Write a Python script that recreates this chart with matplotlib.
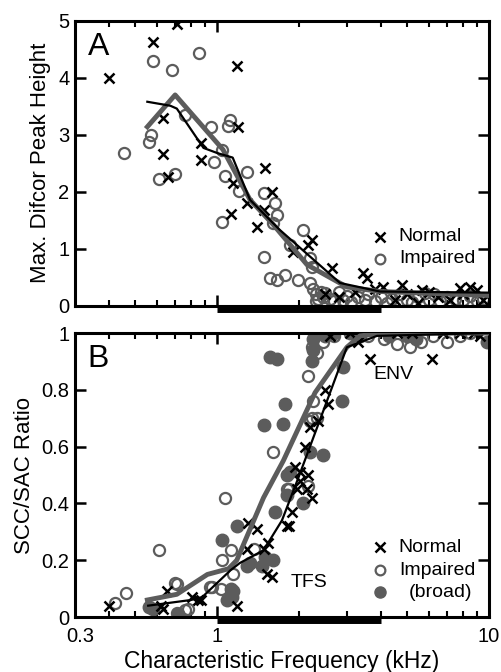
import matplotlib.pyplot as plt
import matplotlib.transforms as mtransforms
from matplotlib.ticker import FixedLocator, NullFormatter

plt.rcParams['font.family'] = ['Liberation Sans', 'DejaVu Sans']

# ---- panel A: max difcor peak height ----
a_norm_f = [0.40, 0.58, 0.71, 1.18, 0.63, 1.19, 0.63, 0.87, 0.87, 0.66, 1.12, 1.14, 1.29,
            1.50, 1.59, 1.48, 1.40, 2.24, 2.16, 1.90, 2.65, 3.44, 3.56, 4.08, 4.78, 5.67,
            7.8, 8.5, 2.5, 2.8, 3.2, 3.8, 4.5, 5.0, 5.5, 6.0, 6.5, 7.2, 8.0, 9.0, 9.5]
a_norm_v = [4.0, 4.63, 4.95, 4.2, 3.3, 3.14, 2.67, 2.86, 2.56, 2.26, 1.61, 2.15, 1.8,
            2.42, 2.0, 1.68, 1.39, 1.16, 1.07, 0.95, 0.67, 0.58, 0.49, 0.33, 0.37, 0.28,
            0.32, 0.33, 0.2, 0.15, 0.25, 0.3, 0.1, 0.2, 0.05, 0.25, 0.15, 0.1, 0.2, 0.28, 0.1]

a_imp_f = [0.455, 0.56, 0.57, 0.58, 0.68, 0.86, 0.76, 0.95, 1.11, 1.10, 1.04, 0.97, 0.61,
           0.70, 1.07, 1.20, 1.04, 1.29, 1.48, 1.63, 1.66, 1.60, 1.48, 1.57, 1.66, 1.78,
           1.85, 2.07, 1.99, 2.20, 2.24, 2.25, 2.30, 2.35, 2.30, 2.40, 2.45, 2.20,
           2.5, 2.6, 2.7, 2.8, 2.9, 3.0, 3.1, 3.3, 3.5, 3.6, 3.8, 4.0, 4.2, 4.4, 4.7,
           5.0, 5.2, 5.5, 5.8, 6.0, 6.3, 6.6, 7.0, 7.5, 8.0, 8.5, 9.0, 9.5, 9.8]
a_imp_v = [2.68, 2.88, 3.0, 4.3, 4.14, 4.43, 3.35, 3.13, 3.26, 3.16, 2.74, 2.53, 2.23,
           2.32, 2.28, 2.02, 1.47, 2.35, 1.98, 1.8, 1.6, 1.46, 0.86, 0.49, 0.46, 0.54,
           1.07, 1.33, 0.46, 0.84, 0.68, 0.3, 0.2, 0.12, 0.08, 0.25, 0.15, 0.4,
           0.22, 0.12, 0.08, 0.25, 0.1, 0.18, 0.06, 0.15, 0.1, 0.2, 0.08, 0.15, 0.05, 0.12, 0.2,
           0.1, 0.06, 0.15, 0.22, 0.1, 0.2, 0.08, 0.15, 0.12, 0.1, 0.18, 0.08, 0.12, 0.05]

a_norm_fit_f = [0.553, 0.672, 0.71, 0.89, 1.0, 1.14, 1.32, 1.70, 2.83, 3.97, 10]
a_norm_fit_v = [3.58, 3.51, 3.46, 2.77, 2.68, 2.6, 1.86, 1.33, 0.40, 0.25, 0.23]
a_imp_fit_f = [0.553, 0.70, 1.05, 1.32, 1.61, 2.14, 3.0, 3.97, 10]
a_imp_fit_v = [3.14, 3.70, 2.74, 1.86, 1.42, 0.72, 0.33, 0.25, 0.18]

# ---- panel B: SCC/SAC ratio ----
b_norm_f = [3.08, 3.65, 6.17, 4.58, 6.8, 7.8, 2.49, 2.56, 2.2, 2.35, 2.1, 1.93, 2.02, 2.14,
            1.97, 2.16, 2.24, 1.89, 1.83, 1.40, 1.54, 1.48, 1.53, 1.59, 2.02, 0.40, 0.655,
            0.81, 0.85, 0.62, 1.18, 1.30, 1.29, 1.81, 0.63, 0.87, 2.6, 3.3, 5.2, 8.8, 9.3]
b_norm_v = [1.0, 0.91, 0.91, 1.0, 1.0, 1.0, 0.80, 0.75, 0.67, 0.69, 0.60, 0.53, 0.51, 0.45,
            0.45, 0.5, 0.42, 0.37, 0.32, 0.31, 0.26, 0.24, 0.15, 0.14, 0.48, 0.04, 0.09,
            0.07, 0.06, 0.04, 0.04, 0.33, 0.24, 0.32, 0.03, 0.06, 0.99, 0.97, 1.0, 1.0, 0.99]

b_imp_f = [0.42, 0.46, 0.61, 0.71, 0.71, 0.78, 1.07, 1.03, 0.94, 1.04, 1.12, 0.70, 0.76,
           0.96, 1.36, 1.81, 1.14, 1.61, 2.24, 2.33, 2.20, 2.25, 2.16, 2.24, 2.33, 2.45,
           2.6, 2.7, 4.1, 4.58, 5.1, 7.0, 7.8, 8.5, 6.2, 1.83, 2.16, 3.6, 5.6]
b_imp_v = [0.05, 0.085, 0.235, 0.115, 0.015, 0.03, 0.42, 0.1, 0.105, 0.2, 0.235, 0.12, 0.025,
           0.105, 0.24, 0.45, 0.15, 0.58, 0.70, 0.70, 0.69, 0.76, 0.85, 0.95, 0.93, 0.97,
           1.0, 0.99, 0.98, 0.96, 0.95, 0.97, 0.99, 1.0, 0.99, 0.45, 0.46, 0.99, 0.97]

b_broad_f = [1.57, 1.66, 1.78, 1.48, 1.75, 1.81, 2.20, 2.45, 2.88, 2.90, 2.24, 2.25, 2.25,
             3.08, 3.2, 3.35, 4.3, 5.0, 5.4, 9.8, 1.85, 1.81, 1.63, 2.07, 1.46, 1.61, 1.50,
             1.32, 1.18, 1.04, 1.12, 1.13, 1.09, 1.29, 0.56, 0.72, 0.58, 1.14, 2.5, 2.7]
b_broad_v = [0.915, 0.91, 0.75, 0.675, 0.68, 0.5, 0.58, 0.57, 0.76, 0.88, 0.9, 0.94, 0.98,
             1.0, 1.0, 0.99, 0.99, 0.99, 0.98, 0.97, 0.51, 0.43, 0.37, 0.40, 0.18, 0.2, 0.21,
             0.19, 0.32, 0.27, 0.1, 0.07, 0.06, 0.18, 0.035, 0.01, 0.03, 0.09, 0.99, 1.0]

b_norm_fit_f = [0.557, 0.80, 0.88, 1.12, 1.21, 1.48, 1.73, 1.97, 2.4, 3.0, 3.87, 10]
b_norm_fit_v = [0.04, 0.06, 0.07, 0.165, 0.19, 0.235, 0.34, 0.48, 0.70, 0.95, 0.99, 1.0]
b_imp_fit_f = [0.553, 0.71, 0.92, 1.10, 1.18, 1.48, 1.75, 2.29, 3.0, 3.35, 4.1, 10]
b_imp_fit_v = [0.06, 0.08, 0.15, 0.17, 0.2, 0.42, 0.55, 0.79, 0.95, 0.99, 1.0, 1.0]

gray = '#5c5c5c'

fig = plt.figure(figsize=(5.01, 6.72), dpi=100)
axA = fig.add_axes([0.150, 0.545, 0.826, 0.424])
axB = fig.add_axes([0.150, 0.0818, 0.826, 0.4226])


def style(ax, ymax, yticks, ylabels):
    ax.set_xscale('log')
    ax.set_xlim(0.3, 10)
    ax.set_ylim(0, ymax)
    ax.xaxis.set_major_locator(FixedLocator([0.3, 1, 10]))
    ax.xaxis.set_minor_locator(FixedLocator([0.4, 0.5, 0.6, 0.7, 0.8, 0.9,
                                             2, 3, 4, 5, 6, 7, 8, 9]))
    ax.xaxis.set_minor_formatter(NullFormatter())
    ax.set_yticks(yticks)
    ax.set_yticklabels(ylabels)
    for s in ax.spines.values():
        s.set_linewidth(2.2)
    ax.tick_params(axis='both', which='major', direction='in', top=True, right=True,
                   length=8, width=1.8, labelsize=14.5, pad=4)
    ax.tick_params(axis='x', which='major', pad=7)
    ax.tick_params(axis='x', which='minor', direction='in', top=True,
                   length=4, width=1.5)
    # thick bar from 1 to 4 kHz under the axis
    ax.plot([1, 4], [-0.012, -0.012], transform=ax.get_xaxis_transform(),
            color='black', lw=5, solid_capstyle='butt', clip_on=False, zorder=5)


# panel A
axA.plot(a_imp_f, a_imp_v, 'o', mfc='none', mec=gray, ms=8, mew=1.6, zorder=2)
axA.plot(a_norm_f, a_norm_v, 'x', color='black', ms=7, mew=1.8, zorder=3)
axA.plot(a_imp_fit_f, a_imp_fit_v, color=gray, lw=3.5, zorder=4)
axA.plot(a_norm_fit_f, a_norm_fit_v, color='black', lw=1.6, zorder=5)
style(axA, 5, [0, 1, 2, 3, 4, 5], ['0', '1', '2', '3', '4', '5'])
axA.set_xticklabels([])
axA.set_ylabel('Max. Difcor Peak Height', fontsize=16, labelpad=5)
axA.text(0.03, 0.96, 'A', transform=axA.transAxes, fontsize=23, va='top')
axA.plot([0.737], [0.242], 'x', color='black', ms=7, mew=1.8, transform=axA.transAxes)
axA.plot([0.737], [0.165], 'o', mfc='none', mec=gray, ms=7, mew=1.6, transform=axA.transAxes)
axA.text(0.782, 0.242, 'Normal', transform=axA.transAxes, fontsize=14, va='center')
axA.text(0.782, 0.165, 'Impaired', transform=axA.transAxes, fontsize=14, va='center')

# panel B
axB.plot(b_broad_f, b_broad_v, 'o', color=gray, ms=9, zorder=2)
axB.plot(b_imp_f, b_imp_v, 'o', mfc='none', mec=gray, ms=8, mew=1.6, zorder=2)
axB.plot(b_norm_f, b_norm_v, 'x', color='black', ms=7, mew=1.8, zorder=3)
axB.plot(b_imp_fit_f, b_imp_fit_v, color=gray, lw=3.5, zorder=4)
axB.plot(b_norm_fit_f, b_norm_fit_v, color='black', lw=1.6, zorder=5)
style(axB, 1, [0, 0.2, 0.4, 0.6, 0.8, 1], ['0', '0.2', '0.4', '0.6', '0.8', '1'])
axB.set_xticklabels(['0.3', '1', '10'])
# nudge the "0.3" label right, away from the y label "0"
first = axB.get_xticklabels()[0]
first.set_transform(first.get_transform() +
                    mtransforms.ScaledTranslation(5 / 100, 0, fig.dpi_scale_trans))
axB.set_xlabel('Characteristic Frequency (kHz)', fontsize=16.5, labelpad=3)
axB.set_ylabel('SCC/SAC Ratio', fontsize=16, labelpad=5)
axB.text(0.03, 0.96, 'B', transform=axB.transAxes, fontsize=23, va='top')
axB.text(0.72, 0.855, 'ENV', transform=axB.transAxes, fontsize=14, va='center')
axB.text(0.52, 0.12, 'TFS', transform=axB.transAxes, fontsize=14, va='center')
axB.plot([0.737], [0.246], 'x', color='black', ms=7, mew=1.8, transform=axB.transAxes)
axB.plot([0.737], [0.165], 'o', mfc='none', mec=gray, ms=7, mew=1.6, transform=axB.transAxes)
axB.plot([0.737], [0.088], 'o', color=gray, ms=8, transform=axB.transAxes)
axB.text(0.782, 0.246, 'Normal', transform=axB.transAxes, fontsize=14, va='center')
axB.text(0.782, 0.165, 'Impaired', transform=axB.transAxes, fontsize=14, va='center')
axB.text(0.96, 0.088, '(broad)', transform=axB.transAxes, fontsize=14, va='center', ha='right')

fig.savefig('out.png', dpi=100)
